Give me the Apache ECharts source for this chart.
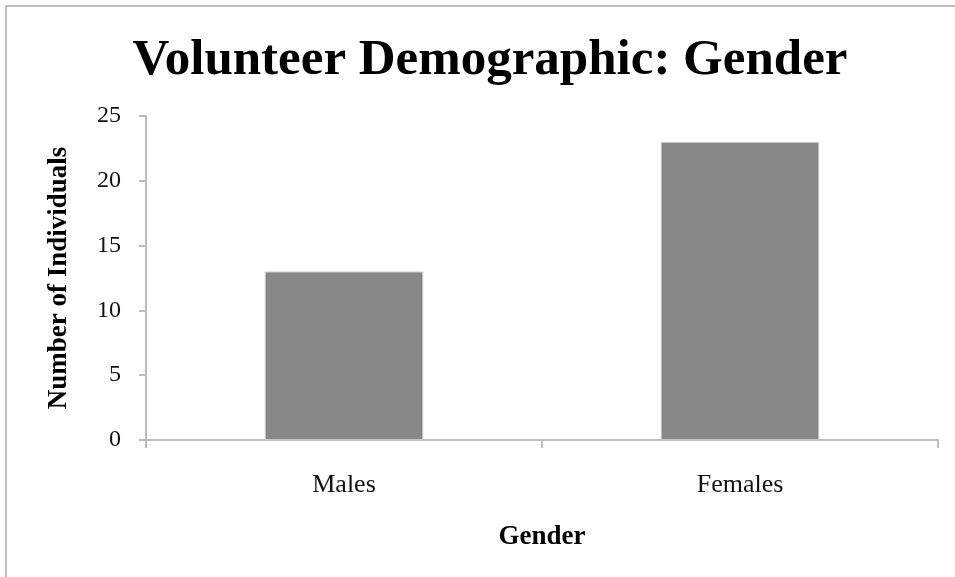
<!DOCTYPE html>
<html>
<head>
<meta charset="utf-8">
<script src="https://cdn.jsdelivr.net/npm/echarts@6/dist/echarts.min.js"></script>
<style>
  html, body { margin: 0; padding: 0; background: #fff; }
  #chart { width: 955px; height: 577px; }
</style>
</head>
<body>
<div id="chart"></div>
<script>
// Gender breakdown of volunteers
const categories = ['Males', 'Females'];
const counts = [13, 23];
const yTicks = { min: 0, max: 25, interval: 5 };

const serif = '"Liberation Serif", "DejaVu Serif", serif';

const chart = echarts.init(document.getElementById('chart'), null, { renderer: 'canvas' });
chart.setOption({
  backgroundColor: '#ffffff',
  animation: false,
  title: {
    text: 'Volunteer Demographic: Gender',
    left: 485,
    top: 30,
    textAlign: 'center',
    textStyle: { fontFamily: serif, fontWeight: 'bold', fontSize: 51, color: '#000' }
  },
  graphic: [
    // frame: top and left edges
    { type: 'line', shape: { x1: 5, y1: 6, x2: 955, y2: 6 }, style: { stroke: '#c0c0c0', lineWidth: 2 } },
    { type: 'line', shape: { x1: 6, y1: 5, x2: 6, y2: 577 }, style: { stroke: '#c0c0c0', lineWidth: 2 } }
  ],
  grid: { left: 146, right: 17, top: 116, bottom: 137, containLabel: false },
  xAxis: {
    type: 'category',
    data: categories,
    name: 'Gender',
    nameLocation: 'middle',
    nameGap: 84,
    nameTextStyle: { fontFamily: serif, fontWeight: 'bold', fontSize: 27, color: '#000' },
    axisLine: { lineStyle: { color: '#bdbdbd', width: 2 } },
    axisTick: { show: true, length: 8, lineStyle: { color: '#bdbdbd', width: 2 } },
    axisLabel: { fontFamily: serif, fontSize: 26, color: '#111', margin: 32 }
  },
  yAxis: {
    type: 'value',
    min: yTicks.min,
    max: yTicks.max,
    interval: yTicks.interval,
    name: 'Number of Individuals',
    nameLocation: 'middle',
    nameGap: 73,
    nameRotate: 90,
    nameTextStyle: { fontFamily: serif, fontWeight: 'bold', fontSize: 27, color: '#000' },
    axisLine: { show: true, lineStyle: { color: '#bdbdbd', width: 2 } },
    axisTick: { show: true, length: 7, lineStyle: { color: '#bdbdbd', width: 2 } },
    axisLabel: { fontFamily: serif, fontSize: 24, color: '#111', margin: 25 },
    splitLine: { show: false }
  },
  series: [{
    type: 'bar',
    data: counts,
    barWidth: '40%',
    itemStyle: { color: '#878787', borderColor: '#c8c8c8', borderWidth: 1 }
  }]
});
</script>
</body>
</html>
